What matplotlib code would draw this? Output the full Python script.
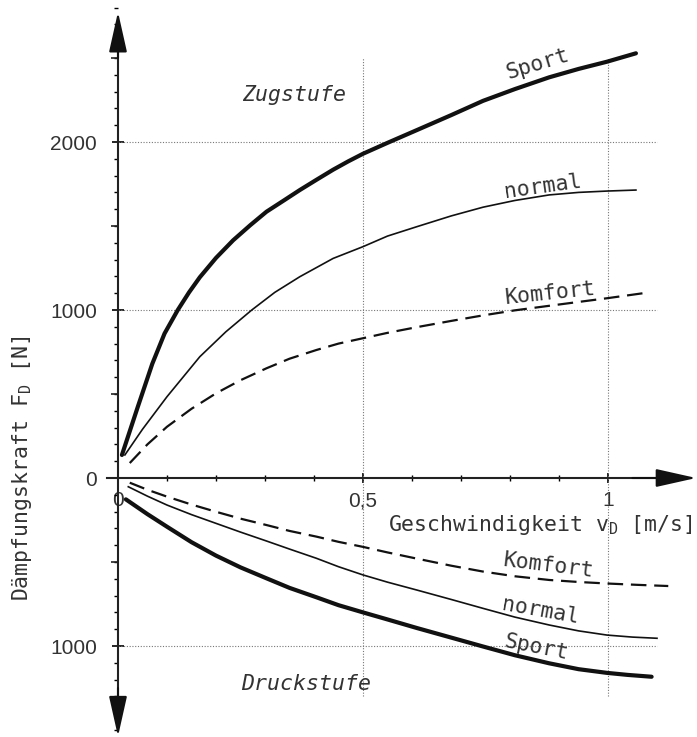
import numpy as np
import matplotlib
matplotlib.use("Agg")
import matplotlib.pyplot as plt
from matplotlib.ticker import MultipleLocator, FixedLocator, FuncFormatter

# Zugstufe (rebound), F in N over v in m/s
v_sport_zug = [0.008, 0.04, 0.07, 0.095, 0.122, 0.145, 0.167, 0.20, 0.235, 0.27, 0.303, 0.34, 0.371,
               0.405, 0.439, 0.47, 0.50, 0.55, 0.61, 0.68, 0.745, 0.81, 0.88, 0.94, 0.998, 1.057]
f_sport_zug = [137, 420, 680, 860, 1000, 1105, 1195, 1310, 1415, 1505, 1585, 1655, 1714,
               1775, 1835, 1885, 1930, 1995, 2071, 2160, 2245, 2315, 2385, 2435, 2478, 2528]
v_normal_zug = [0.014, 0.05, 0.10, 0.167, 0.22, 0.273, 0.32, 0.371, 0.439, 0.50, 0.55, 0.61, 0.68,
                0.745, 0.81, 0.88, 0.94, 0.998, 1.057]
f_normal_zug = [137, 290, 484, 722, 870, 1000, 1105, 1198, 1307, 1377, 1440, 1496, 1560,
                1612, 1652, 1685, 1700, 1708, 1714]
v_komfort_zug = [0.024, 0.06, 0.10, 0.15, 0.20, 0.25, 0.303, 0.35, 0.405, 0.45, 0.50, 0.55, 0.61,
                 0.68, 0.745, 0.81, 0.88, 0.94, 0.998, 1.072]
f_komfort_zug = [89, 200, 305, 412, 504, 582, 653, 710, 762, 800, 832, 864, 898,
                 935, 968, 998, 1025, 1048, 1070, 1100]

# Druckstufe (compression)
v_sport_druck = [0.016, 0.06, 0.10, 0.15, 0.20, 0.25, 0.303, 0.35, 0.405, 0.45, 0.50, 0.55, 0.61,
                 0.68, 0.745, 0.81, 0.88, 0.94, 0.998, 1.04, 1.089]
f_sport_druck = [-127, -215, -290, -382, -462, -532, -597, -654, -710, -757, -800, -842, -893,
                 -950, -1003, -1055, -1103, -1138, -1160, -1172, -1183]
v_normal_druck = [0.021, 0.06, 0.10, 0.15, 0.20, 0.25, 0.303, 0.35, 0.405, 0.45, 0.50, 0.55, 0.61,
                  0.68, 0.745, 0.81, 0.88, 0.94, 0.998, 1.05, 1.10]
f_normal_druck = [-52, -108, -161, -218, -270, -322, -375, -423, -478, -528, -577, -620, -667,
                  -723, -776, -828, -875, -910, -935, -947, -954]
v_komfort_druck = [0.024, 0.06, 0.10, 0.15, 0.20, 0.25, 0.303, 0.35, 0.405, 0.45, 0.50, 0.55, 0.61,
                   0.68, 0.745, 0.81, 0.88, 0.94, 0.998, 1.06, 1.123]
f_komfort_druck = [-28, -70, -111, -158, -201, -242, -280, -315, -349, -380, -410, -443, -480,
                   -522, -557, -585, -607, -619, -628, -636, -643]

x_ticks = [0, 0.5, 1]
x_ticklabels = ["0", "0,5", "1"]
y_ticks = [-1000, 0, 1000, 2000]

mono = "DejaVu Sans Mono"
txt = "#333333"

fig = plt.figure(figsize=(6.97, 7.37), dpi=100)
ax = fig.add_axes([0, 0, 1, 1])
ax.set_xlim(-118 / 490, 579 / 490)
ax.set_ylim(-259 / 0.168, 478 / 0.168)

# axes through the origin
for s in ["top", "right"]:
    ax.spines[s].set_visible(False)
ax.spines["left"].set_position(("data", 0))
ax.spines["bottom"].set_position(("data", 0))
ax.spines["left"].set_bounds(-1340, 2570)
ax.spines["bottom"].set_bounds(-0.022, 1.12)
for s in ["left", "bottom"]:
    ax.spines[s].set_linewidth(1.5)
    ax.spines[s].set_color("#222222")

ax.xaxis.set_major_locator(FixedLocator(x_ticks))
ax.xaxis.set_minor_locator(FixedLocator(np.arange(0.1, 1.15, 0.1)))
ax.set_xticklabels(x_ticklabels)
ax.yaxis.set_major_locator(FixedLocator(y_ticks))
ax.yaxis.set_minor_locator(MultipleLocator(100))
ax.yaxis.set_major_formatter(FuncFormatter(lambda v, p: f"{abs(int(v))}"))

ax.tick_params(axis="y", which="major", direction="inout", length=8, width=1.2,
               pad=11, labelsize=15, labelcolor=txt)
ax.tick_params(axis="y", which="minor", direction="out", length=3, width=1)
ax.tick_params(axis="x", which="major", direction="inout", length=7, width=1.2,
               pad=6, labelsize=15, labelcolor=txt)
ax.tick_params(axis="x", which="minor", direction="inout", length=5, width=1)
for lab in ax.get_xticklabels() + ax.get_yticklabels():
    lab.set_fontfamily("Liberation Sans")

# medium ticks at the 500s
ax.plot(np.zeros(4), [-500, 500, 1500, 2500], ls="", marker=0, ms=5, mew=1.2, color="#222222")

# arrow heads
arrow = dict(arrowstyle="-|>,head_length=1.25,head_width=0.28", color="#111111",
             lw=1.5, shrinkA=0, shrinkB=0, mutation_scale=20)
ax.annotate("", xy=(0, 2774), xytext=(0, 2500), arrowprops=arrow)
ax.annotate("", xy=(0, -1538), xytext=(0, -1250), arrowprops=arrow)
ax.annotate("", xy=(1.18, 0), xytext=(1.05, 0), arrowprops=arrow)

# dotted grid
ax.hlines([-1000, 1000, 2000], 0, 1.1, colors="#777777", linestyles=(0, (1, 1.5)), lw=0.8)
ax.vlines([0.5, 1], -1300, 2500, colors="#777777", linestyles=(0, (1, 1.5)), lw=0.8)

# curves
dash = (0, (7, 3.5))
ax.plot(v_sport_zug, f_sport_zug, color="#111111", lw=3.0, solid_capstyle="round", solid_joinstyle="round")
ax.plot(v_normal_zug, f_normal_zug, color="#111111", lw=1.2)
ax.plot(v_komfort_zug, f_komfort_zug, color="#111111", lw=1.6, ls=dash)
ax.plot(v_sport_druck, f_sport_druck, color="#111111", lw=3.0, solid_capstyle="round", solid_joinstyle="round")
ax.plot(v_normal_druck, f_normal_druck, color="#111111", lw=1.2)
ax.plot(v_komfort_druck, f_komfort_druck, color="#111111", lw=1.6, ls=dash)

# curve labels
lab = dict(fontsize=15.5, family=mono, color=txt, ha="center", va="center")
ax.text(0.857, 2462, "Sport", rotation=17, **lab)
ax.text(0.867, 1735, "normal", rotation=8, **lab)
ax.text(0.882, 1098, "Komfort", rotation=6, **lab)
ax.text(0.878, -524, "Komfort", rotation=-7, **lab)
ax.text(0.863, -792, "normal", rotation=-10, **lab)
ax.text(0.853, -1006, "Sport", rotation=-11, **lab)

ax.text(0.359, 2280, "Zugstufe", style="italic", **lab)
ax.text(0.384, -1226, "Druckstufe", style="italic", **lab)

# axis titles
ax.text(1.173, -280, r"Geschwindigkeit v$_\mathregular{D}$ [m/s]", fontsize=15.5,
        family=mono, color=txt, ha="right", va="center")
ax.text(-0.195, 60, r"Dämpfungskraft F$_\mathregular{D}$ [N]", fontsize=15.5,
        family=mono, color=txt, ha="center", va="center", rotation=90)

fig.savefig("out.png", dpi=100)
